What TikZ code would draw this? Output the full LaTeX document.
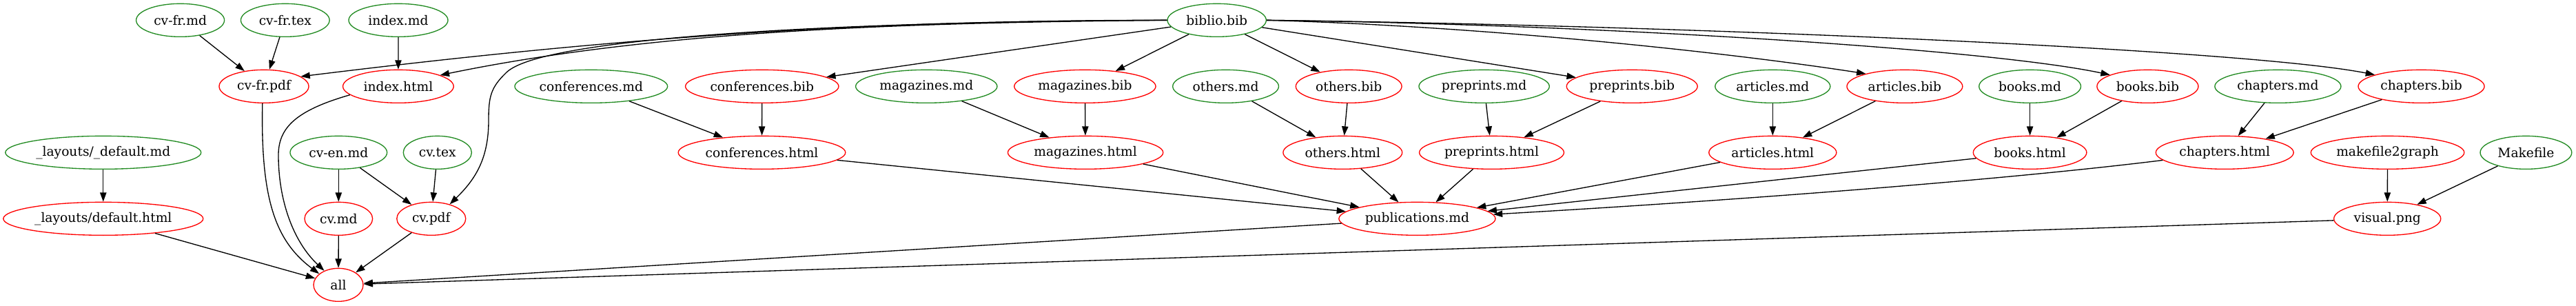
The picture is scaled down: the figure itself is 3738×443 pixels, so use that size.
\documentclass[tikz,border=0pt]{standalone}
\usepackage{fontspec}
\setmainfont{DejaVu Serif}
\usetikzlibrary{shapes.geometric,arrows.meta}
\definecolor{ggreen}{RGB}{34,139,34}
\newcommand{\zlabel}[1]{\makebox[0pt]{#1}}
\tikzset{
  gnode/.style={ellipse, draw=ggreen, line width=1pt, inner sep=0pt, minimum height=36pt, font=\fontsize{14}{17}\selectfont},
  rnode/.style={ellipse, draw=red, line width=1pt, inner sep=0pt, minimum height=36pt, font=\fontsize{14}{17}\selectfont},
  edge/.style={-{Triangle[length=10pt,width=7pt]}, line width=1pt, black}
}
\begin{document}
\begin{tikzpicture}[x=0.75pt,y=-0.75pt]
\useasboundingbox (0,0) rectangle (3738,443);
% row 1
\node[gnode, minimum width=96pt]    (cvfrmd)  at (261.6,29.33) {\zlabel{cv-fr.md}};
\node[gnode, minimum width=96.5pt]  (cvfrtex) at (413.8,29.33) {\zlabel{cv-fr.tex}};
\node[gnode, minimum width=108pt]   (indexmd) at (578,29.33) {\zlabel{index.md}};
\node[gnode, minimum width=107.5pt] (biblio)  at (1765.7,29.33) {\zlabel{biblio.bib}};
% row 2
\node[rnode, minimum width=97.5pt]  (cvfrpdf)   at (383,125.33) {\zlabel{cv-fr.pdf}};
\node[rnode, minimum width=120.5pt] (indexhtml) at (577.9,125.33) {\zlabel{index.html}};
\node[gnode, minimum width=166.3pt] (confmd)  at (857.8,125.33) {\zlabel{conferences.md}};
\node[rnode, minimum width=166.8pt] (confbib) at (1105.8,125.33) {\zlabel{conferences.bib}};
\node[gnode, minimum width=154pt]   (magmd)   at (1344.3,125.33) {\zlabel{magazines.md}};
\node[rnode, minimum width=154pt]   (magbib)  at (1574.4,125.33) {\zlabel{magazines.bib}};
\node[gnode, minimum width=115.3pt] (othmd)   at (1778.6,125.33) {\zlabel{others.md}};
\node[rnode, minimum width=115.3pt] (othbib)  at (1957.2,125.33) {\zlabel{others.bib}};
\node[gnode, minimum width=142pt]   (premd)   at (2153.6,125.33) {\zlabel{preprints.md}};
\node[rnode, minimum width=142.5pt] (prebib)  at (2368.2,125.33) {\zlabel{preprints.bib}};
\node[gnode, minimum width=125.3pt] (artmd)   at (2572.3,125.33) {\zlabel{articles.md}};
\node[rnode, minimum width=125.9pt] (artbib)  at (2763.9,125.33) {\zlabel{articles.bib}};
\node[gnode, minimum width=110.8pt] (bookmd)  at (2945.6,125.33) {\zlabel{books.md}};
\node[rnode, minimum width=110.3pt] (bookbib) at (3116.4,125.33) {\zlabel{books.bib}};
\node[gnode, minimum width=137.3pt] (chapmd)  at (3305.4,125.33) {\zlabel{chapters.md}};
\node[rnode, minimum width=137.3pt] (chapbib) at (3513.5,125.33) {\zlabel{chapters.bib}};
% row 3
\node[gnode, minimum width=213pt]   (layoutmd) at (149.8,221.33) {\zlabel{\_layouts/\_default.md}};
\node[gnode, minimum width=105.5pt] (cvenmd)   at (491.3,221.33) {\zlabel{cv-en.md}};
\node[gnode, minimum width=74.3pt]  (cvtex)    at (634.8,221.33) {\zlabel{cv.tex}};
\node[rnode, minimum width=182pt]   (confhtml) at (1105.5,221.33) {\zlabel{conferences.html}};
\node[rnode, minimum width=169pt]   (maghtml)  at (1575.1,221.33) {\zlabel{magazines.html}};
\node[rnode, minimum width=129.6pt] (othhtml)  at (1948.3,221.33) {\zlabel{others.html}};
\node[rnode, minimum width=157.4pt] (prehtml)  at (2164.5,221.33) {\zlabel{preprints.html}};
\node[rnode, minimum width=138.8pt] (arthtml)  at (2572.3,221.33) {\zlabel{articles.html}};
\node[rnode, minimum width=123.4pt] (bookhtml) at (2945.6,221.33) {\zlabel{books.html}};
\node[rnode, minimum width=149.9pt] (chaphtml) at (3228.2,221.33) {\zlabel{chapters.html}};
\node[rnode, minimum width=166.9pt] (mkg)      at (3464.5,221.33) {\zlabel{makefile2graph}};
\node[gnode, minimum width=99.6pt]  (makefile) at (3665.4,221.33) {\zlabel{Makefile}};
% row 4
\node[rnode, minimum width=217.5pt] (layouthtml) at (149.8,317.33) {\zlabel{\_layouts/default.html}};
\node[rnode, minimum width=74pt]    (cvmd)   at (491.3,317.33) {\zlabel{cv.md}};
\node[rnode, minimum width=75pt]    (cvpdf)  at (625.8,317.33) {\zlabel{cv.pdf}};
\node[rnode, minimum width=170.3pt] (pubmd)  at (2056.4,317.33) {\zlabel{publications.md}};
\node[rnode, minimum width=116.3pt] (visual) at (3464.2,317.33) {\zlabel{visual.png}};
% row 5
\node[rnode, minimum width=54pt] (all) at (491,413.33) {\zlabel{all}};

% edges row1 -> row2
\draw[edge] (cvfrmd) -- (cvfrpdf);
\draw[edge] (cvfrtex) -- (cvfrpdf);
\draw[edge] (indexmd) -- (indexhtml);
\draw[edge] (biblio.west) .. controls (1220,29) and (850,60) .. (cvfrpdf.15);
\draw[edge] (biblio.west) .. controls (1300,33) and (950,45) .. (indexhtml.15);
\draw[edge] (biblio.west) .. controls (1250,31) and (790,52) .. (735,105)
   .. controls (712,127) and (709,140) .. (709,175)
   .. controls (709,230) and (690,260) .. (cvpdf.38);
\draw[edge] (biblio) -- (confbib);
\draw[edge] (biblio) -- (magbib);
\draw[edge] (biblio) -- (othbib);
\draw[edge] (biblio) -- (prebib);
\draw[edge] (biblio.east) .. controls (2150,38) and (2500,75) .. (artbib.162);
\draw[edge] (biblio.east) .. controls (2300,35) and (2880,70) .. (bookbib.163);
\draw[edge] (biblio.east) .. controls (2400,36) and (3250,70) .. (chapbib.166);
% row2 -> row3
\draw[edge] (confmd) -- (confhtml);
\draw[edge] (confbib) -- (confhtml);
\draw[edge] (magmd) -- (maghtml);
\draw[edge] (magbib) -- (maghtml);
\draw[edge] (othmd) -- (othhtml);
\draw[edge] (othbib) -- (othhtml);
\draw[edge] (premd) -- (prehtml);
\draw[edge] (prebib) -- (prehtml);
\draw[edge] (artmd) -- (arthtml);
\draw[edge] (artbib) -- (arthtml);
\draw[edge] (bookmd) -- (bookhtml);
\draw[edge] (bookbib) -- (bookhtml);
\draw[edge] (chapmd) -- (chaphtml);
\draw[edge] (chapbib) -- (chaphtml);
% row3 -> row4
\draw[edge] (layoutmd) -- (layouthtml);
\draw[edge] (cvenmd) -- (cvmd);
\draw[edge] (cvenmd) -- (cvpdf);
\draw[edge] (cvtex) -- (cvpdf);
\draw[edge] (mkg) -- (visual);
\draw[edge] (makefile) -- (visual);
\draw[edge] (confhtml) -- (pubmd);
\draw[edge] (maghtml) -- (pubmd);
\draw[edge] (othhtml) -- (pubmd);
\draw[edge] (prehtml) -- (pubmd);
\draw[edge] (arthtml) -- (pubmd);
\draw[edge] (bookhtml) -- (pubmd);
\draw[edge] (chaphtml) .. controls (2900,262) and (2500,292) .. (pubmd);
% to all
\draw[edge] (layouthtml) -- (all);
\draw[edge] (cvfrpdf.265) .. controls (378,290) and (400,350) .. (all.150);
\draw[edge] (indexhtml.190) .. controls (430,160) and (404,185) .. (404,225)
   .. controls (404,290) and (425,350) .. (all.135);
\draw[edge] (cvmd) -- (all);
\draw[edge] (cvpdf) -- (all);
\draw[edge] (pubmd) -- (all);
\draw[edge] (visual) -- (all);
\end{tikzpicture}
\end{document}
